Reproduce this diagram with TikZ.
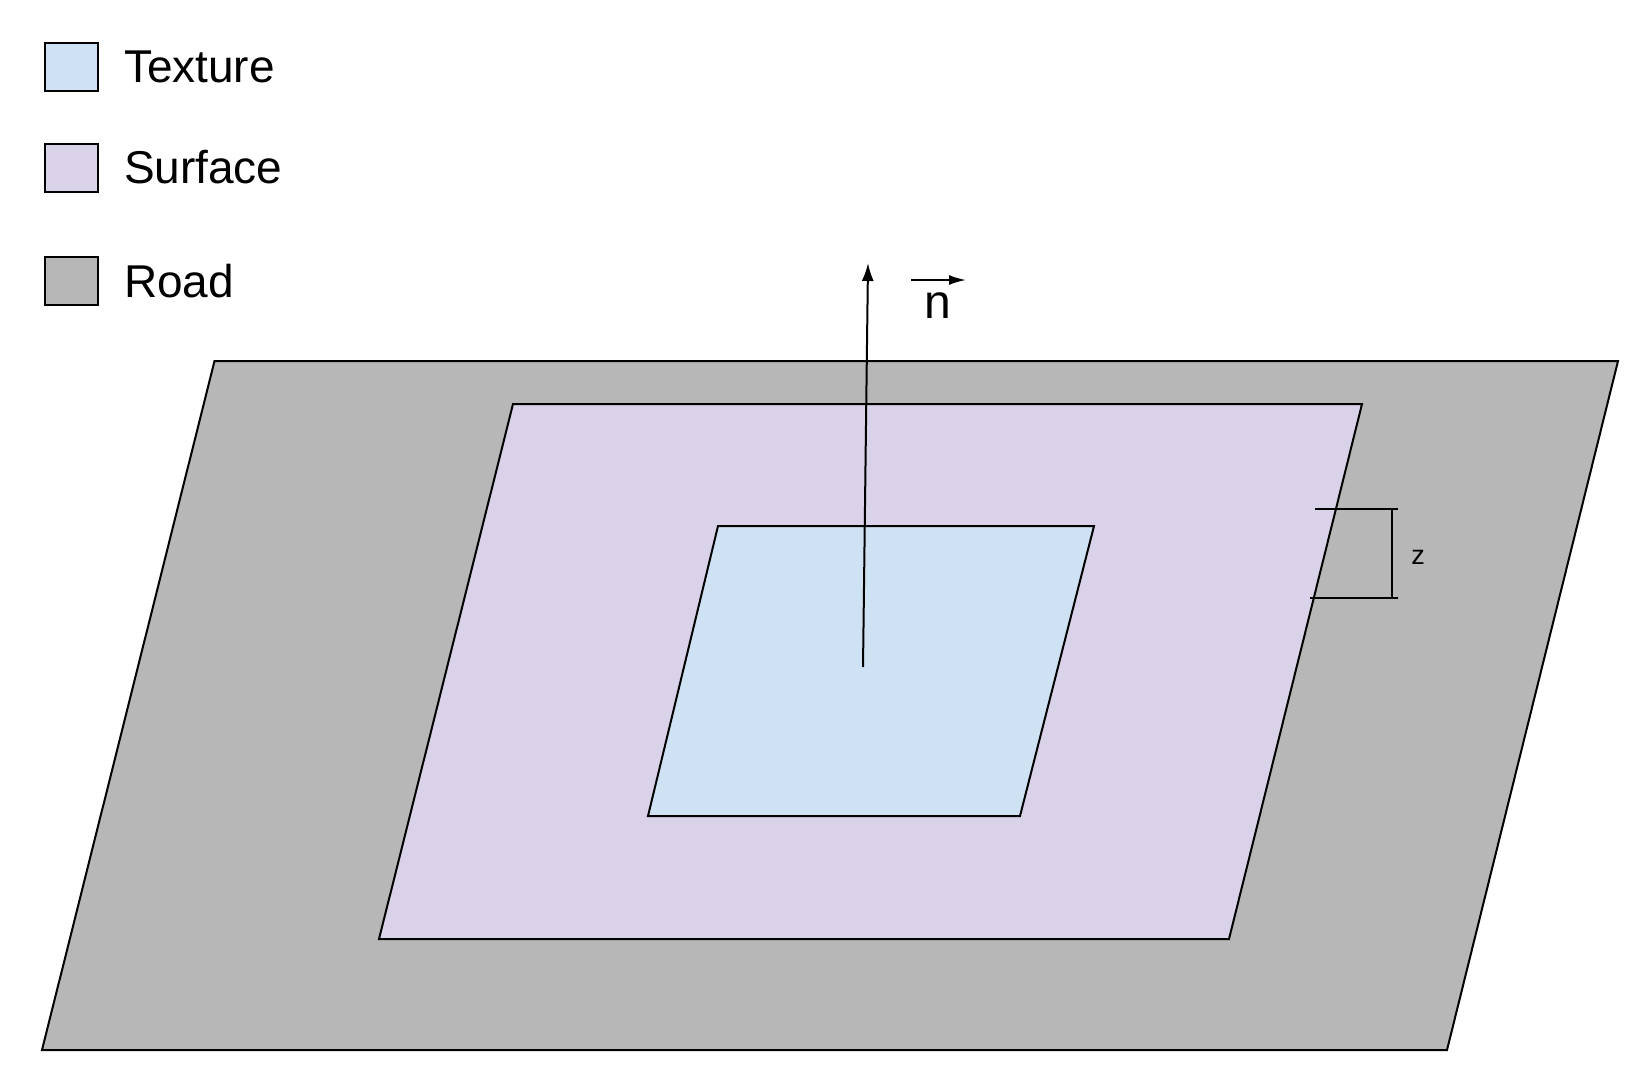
\documentclass[tikz,border=0pt]{standalone}
\usepackage{fontspec}
\setmainfont{Liberation Sans}
\usetikzlibrary{arrows.meta,positioning}
\definecolor{texturefill}{HTML}{CFE2F3}
\definecolor{surfacefill}{HTML}{D9D2E9}
\definecolor{roadfill}{HTML}{B7B7B7}

\begin{document}
\begin{tikzpicture}[x=1pt,y=-1pt,line width=2pt,
  legendbox/.style={draw,line width=2pt,minimum width=53pt,minimum height=48pt,inner sep=0pt},
  legendtext/.style={font=\fontsize{46}{52}\selectfont,inner sep=0pt}]
\useasboundingbox (0,0) rectangle (1637,1088);
% Legend
\node[legendbox,fill=texturefill] (texbox) at (71.5,66.5) {};
\node[legendtext,right=24pt of texbox] (textex) {Texture};
\node[legendbox,fill=surfacefill] (surfbox) at (71.5,167.5) {};
\node[legendtext,right=24pt of surfbox] (textsurf) {Surface};
\node[legendbox,fill=roadfill] (roadbox) at (71.5,281) {};
\node[legendtext,right=24pt of roadbox] (textroad) {Road};

% Road, surface and texture planes
\draw[fill=roadfill] (214.5,361) -- (1618,361) -- (1447,1050) -- (42,1050) -- cycle;
\draw[fill=surfacefill] (513,404) -- (1362,404) -- (1229,939) -- (379,939) -- cycle;
\draw[fill=texturefill] (718,526) -- (1094,526) -- (1020,816) -- (648,816) -- cycle;

% Normal vector
\coordinate (nbase) at (863,667);
\coordinate (ntip) at (868,263);
\draw[-{Latex[length=18pt,width=12pt]}] (nbase) -- (ntip);
\node[font=\fontsize{48}{54}\selectfont,inner sep=0pt] (nlabel) at (938,306) {n};
\coordinate (vecstart) at (911,280);
\coordinate (vecend) at (966,280);
\draw[-{Latex[length=17pt,width=10pt]}] (vecstart) -- (vecend);

% Offset z
\coordinate (ztopl) at (1315,509);
\coordinate (ztopr) at (1398,509);
\coordinate (zbotl) at (1310,598);
\coordinate (zbotr) at (1398,598);
\coordinate (zvtop) at (1392,509);
\coordinate (zvbot) at (1392,598);
\draw (ztopl) -- (ztopr);
\draw (zbotl) -- (zbotr);
\draw (zvtop) -- (zvbot);
\node[font=\fontsize{27}{30}\selectfont,inner sep=0pt] (zlabel) at (1418,557) {z};
\end{tikzpicture}
\end{document}
